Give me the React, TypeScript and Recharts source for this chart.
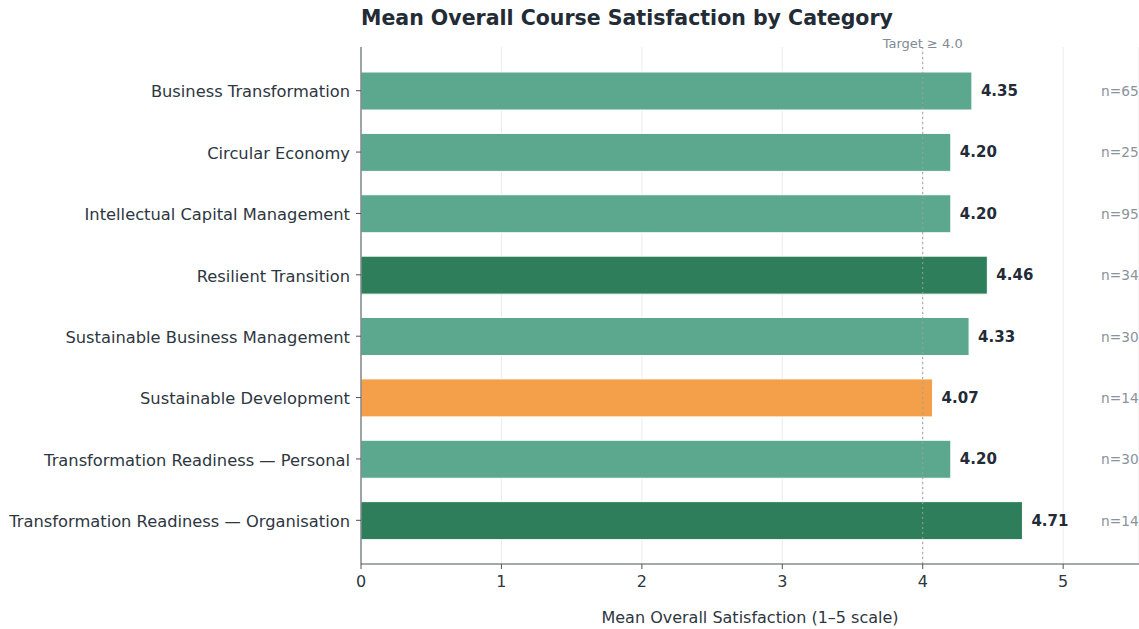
import { BarChart, Bar, XAxis, YAxis, CartesianGrid, ReferenceLine, LabelList, Cell } from 'recharts';

const categories = [
  'Business Transformation',
  'Circular Economy',
  'Intellectual Capital Management',
  'Resilient Transition',
  'Sustainable Business Management',
  'Sustainable Development',
  'Transformation Readiness — Personal',
  'Transformation Readiness — Organisation',
];
const means = [4.35, 4.2, 4.2, 4.46, 4.33, 4.07, 4.2, 4.71];
const counts = [65, 25, 95, 34, 30, 14, 30, 14];
const tiers = ['mid', 'mid', 'mid', 'high', 'mid', 'low', 'mid', 'high'];
const xTicks = [0, 1, 2, 3, 4, 5];
const target = 4.0;

const tierColor: Record<string, string> = {
  high: '#2e7d5b',
  mid: '#5ba88e',
  low: '#f4a04a',
};

const data = categories.map((name, i) => ({ name, value: means[i], n: counts[i], tier: tiers[i] }));

const FONT = '"DejaVu Sans", sans-serif';
const N_AT = 5.27; // where the n= column sits on the x scale

export default function App() {
  return (
    <div style={{ position: 'relative', width: 1139, height: 629, fontFamily: FONT, background: '#fff' }}>
      <style>{`body{margin:0}`}</style>
      <div
        style={{
          position: 'absolute',
          left: 361,
          top: 6,
          fontSize: 20.5,
          fontWeight: 'bold',
          color: '#222b36',
          whiteSpace: 'nowrap',
        }}
      >
        Mean Overall Course Satisfaction by Category
      </div>
      <BarChart
        width={1139}
        height={629}
        data={data}
        layout="vertical"
        margin={{ top: 47, right: 0, bottom: 0, left: 0 }}
        style={{ fontFamily: FONT }}
      >
        <CartesianGrid horizontal={false} stroke="#ececec" />
        <XAxis
          type="number"
          domain={[0, 5.54]}
          ticks={xTicks}
          allowDataOverflow
          height={65}
          stroke="#4d5358"
          tickSize={5}
          tickMargin={7}
          tick={{ fill: '#2d3741', fontSize: 16 }}
          label={{ value: 'Mean Overall Satisfaction (1–5 scale)', position: 'insideBottom', offset: 6, fill: '#2d3741', fontSize: 16 }}
        />
        <YAxis
          type="category"
          dataKey="name"
          width={361}
          padding={{ top: 13, bottom: 13 }}
          stroke="#4d5358"
          tickSize={5}
          tickMargin={6}
          tick={{ fill: '#2d3741', fontSize: 16.3, dy: 1 }}
          interval={0}
        />
        <ReferenceLine
          x={target}
          stroke="#9aa0a6"
          strokeDasharray="2 3"
          label={{ value: 'Target ≥ 4.0', position: 'top', offset: -1, fill: '#7f8a93', fontSize: 13 }}
        />
        <Bar dataKey="value" barSize={38} isAnimationActive={false} stroke="#ffffff" strokeWidth={1}>
          {data.map((d) => (
            <Cell key={d.name} fill={tierColor[d.tier]} />
          ))}
          <LabelList
            dataKey="value"
            content={(p: any) => (
              <text
                x={p.x + p.width + 9}
                y={p.y + p.height / 2}
                dominantBaseline="central"
                fontSize={15}
                fontWeight="bold"
                fill="#222b36"
              >
                {Number(p.value).toFixed(2)}
              </text>
            )}
          />
          <LabelList
            dataKey="n"
            content={(p: any) => {
              const v = data[p.index].value;
              return (
                <text
                  x={p.x + (p.width * N_AT) / v}
                  y={p.y + p.height / 2}
                  dominantBaseline="central"
                  fontSize={13.7}
                  fill="#8a939b"
                >
                  {`n=${p.value}`}
                </text>
              );
            }}
          />
        </Bar>
      </BarChart>
    </div>
  );
}
